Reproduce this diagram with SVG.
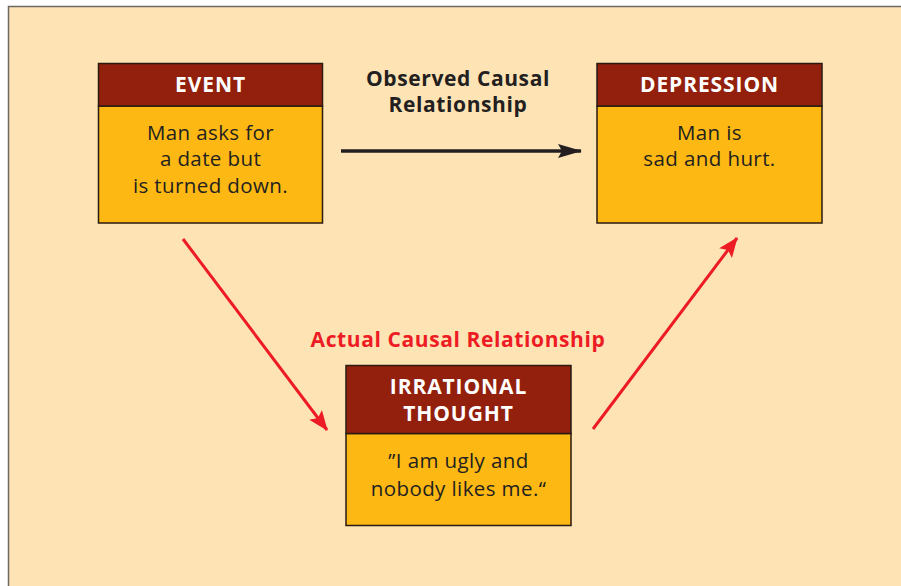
<svg xmlns="http://www.w3.org/2000/svg" width="901" height="586" viewBox="0 0 901 586">
<defs>
<style>
.hdr{fill:#92200C;stroke:#2a1a10;stroke-width:1.5}
.body{fill:#FDB813;stroke:#2a1a10;stroke-width:1.5}
.ht{font-family:"Open Sans","Liberation Sans",sans-serif;font-weight:bold;font-size:21px;letter-spacing:0.9px;fill:#fff;text-anchor:middle}
.bt{font-family:"Open Sans","Liberation Sans",sans-serif;font-size:20.5px;letter-spacing:0.4px;fill:#231f20;text-anchor:middle}
.lbl{font-family:"Open Sans","Liberation Sans",sans-serif;font-weight:bold;font-size:21px;letter-spacing:0.6px;text-anchor:middle}
</style>
<marker id="ab" viewBox="0 0 24 14" refX="23" refY="7" markerWidth="24" markerHeight="14" markerUnits="userSpaceOnUse" orient="auto"><path d="M0,0 L24,7 L0,14 L4,7 z" fill="#231f20"/></marker>
<marker id="ar" viewBox="0 0 20 16" refX="19" refY="8" markerWidth="20" markerHeight="16" markerUnits="userSpaceOnUse" orient="auto"><path d="M0,0 L20,8 L0,16 L4,8 z" fill="#ED1C24"/></marker>
</defs>
<rect x="0" y="0" width="901" height="586" fill="#fff"/>
<rect x="8.5" y="6.5" width="900" height="600" fill="#FEE3B5" stroke="#6d6a66" stroke-width="1.5"/>
<g id="connectors">
<line x1="341" y1="151" x2="581" y2="151" stroke="#231f20" stroke-width="3.5" marker-end="url(#ab)"/>
<line x1="183" y1="239" x2="327" y2="430" stroke="#ED1C24" stroke-width="3" marker-end="url(#ar)"/>
<line x1="593" y1="429" x2="737" y2="238" stroke="#ED1C24" stroke-width="3" marker-end="url(#ar)"/>
</g>
<g id="observed-label">
<text class="lbl" x="458" y="85.5" fill="#231f20">Observed Causal</text>
<text class="lbl" x="458" y="111.5" fill="#231f20">Relationship</text>
</g>
<g id="actual-label">
<text class="lbl" x="458" y="347" fill="#ED1C24">Actual Causal Relationship</text>
</g>
<g id="event">
<rect class="body" x="98.5" y="106" width="224" height="117"/>
<rect class="hdr" x="98.5" y="63.5" width="224" height="42.5"/>
<text class="ht" x="210.5" y="92">EVENT</text>
<text class="bt" x="210.5" y="140">Man asks for</text>
<text class="bt" x="210.5" y="166">a date but</text>
<text class="bt" x="210.5" y="193">is turned down.</text>
</g>
<g id="depression">
<rect class="body" x="597" y="106" width="225" height="117"/>
<rect class="hdr" x="597" y="63.5" width="225" height="42.5"/>
<text class="ht" x="709.5" y="92">DEPRESSION</text>
<text class="bt" x="709.5" y="140">Man is</text>
<text class="bt" x="709.5" y="166">sad and hurt.</text>
</g>
<g id="irrational">
<rect class="body" x="346" y="433.5" width="225" height="92"/>
<rect class="hdr" x="346" y="365.5" width="225" height="68"/>
<text class="ht" x="458.5" y="394">IRRATIONAL</text>
<text class="ht" x="458.5" y="420.5">THOUGHT</text>
<text class="bt" x="458.5" y="468">”I am ugly and</text>
<text class="bt" x="458.5" y="495.5">nobody likes me.“</text>
</g>
</svg>
